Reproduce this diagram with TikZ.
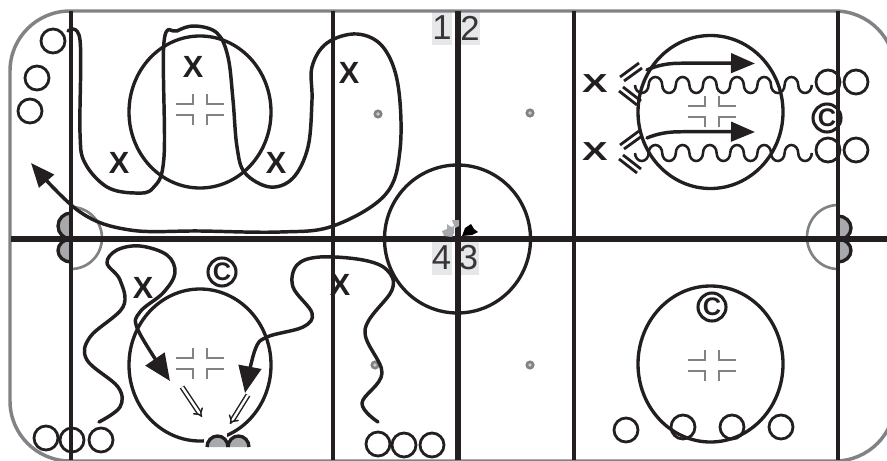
\documentclass[tikz,border=0pt]{standalone}
\usepackage{fontspec}
\setmainfont{Liberation Sans}
\usepackage{xcolor}
\usetikzlibrary{arrows.meta,calc}
\definecolor{RinkGray}{HTML}{808285}
\definecolor{LineBlack}{HTML}{231F20}
\definecolor{CreaseGray}{HTML}{A7A9AC}
\definecolor{NumberGray}{HTML}{E6E7E8}
\tikzset{
  rinkline/.style={draw=LineBlack,line width=2.3pt},
  redline/.style={draw=LineBlack,line width=4.5pt},
  border/.style={draw=RinkGray,line width=2.6pt},
  zone/.style={draw=LineBlack,line width=2.5pt},
  crease/.style={draw=RinkGray,line width=2pt},
  skate/.style={draw=LineBlack,line width=2.6pt,line cap=round,line join=round},
  wavepath/.style={draw=LineBlack,line width=1.9pt},
  shotpass/.style={draw=LineBlack,line width=1.1pt,double=white,double distance=1.8pt,-{Implies}},
  bigtip/.style={-{Triangle[length=18pt,width=14.5pt]}},
  hugetip/.style={-{Triangle[length=20pt,width=17pt]}},
  player/.style={circle,draw=LineBlack,line width=2.1pt,fill=none,minimum size=18pt,inner sep=0pt},
  xplayer/.style={font=\bfseries\fontsize{23}{23}\selectfont,text=LineBlack,inner sep=0pt},
  coach/.style={circle,draw=LineBlack,line width=2.3pt,font=\bfseries\fontsize{19}{19}\selectfont,text=LineBlack,inner sep=0pt,minimum size=21pt},
  endnum/.style={fill=NumberGray,font=\fontsize{26}{26}\selectfont,text=LineBlack!90,inner sep=0pt,minimum width=15pt,minimum height=25pt},
  faceoff/.pic={
    \draw[draw=RinkGray,line width=1pt] (-24,-6) -- (-7,-6) -- (-7,-16);
    \draw[draw=RinkGray,line width=1pt] (-24,5) -- (-7,5) -- (-7,15);
    \draw[draw=RinkGray,line width=1pt] (7,-16) -- (7,-6) -- (24,-6);
    \draw[draw=RinkGray,line width=1pt] (7,15) -- (7,5) -- (24,5);
  },
  spotdot/.pic={
    \fill[RinkGray] (0,0) circle[radius=4.6];
    \fill[CreaseGray!60] (0,0) circle[radius=1.8];
  },
  stopmark/.pic={
    \draw[draw=LineBlack,line width=2.1pt] (0,-7) -- (19,-21);
    \draw[draw=LineBlack,line width=2.1pt] (4,-3) -- (22,-16);
    \draw[draw=LineBlack,line width=2.1pt] (-1,7) -- (17,21);
    \draw[draw=LineBlack,line width=2.1pt] (3,3) -- (21,17);
  }
}
\begin{document}
\begin{tikzpicture}[x=0.75pt,y=-0.75pt,>=Latex]
  \useasboundingbox (0,0) rectangle (887,460);
  \clip (0,0) rectangle (887,460);

  % End zone numbers sit under the lines.
  \node[endnum] (numone) at (442,28) {1};
  \node[endnum] (numtwo) at (470,28) {2};
  \node[endnum] (numfour) at (441.5,258) {4};
  \node[endnum] (numthree) at (468.5,258) {3};

  % Rink outline and creases.
  \draw[border,rounded corners=45pt] (10,11) rectangle (895,461);
  \draw[crease] (71,207) arc[start angle=-90,end angle=90,x radius=31,y radius=31];
  \draw[crease] (838,205) arc[start angle=-90,end angle=-270,x radius=31,y radius=32];
  \filldraw[zone,fill=CreaseGray] (71,213) arc[start angle=-90,end angle=-270,x radius=13,y radius=13] -- cycle;
  \filldraw[zone,fill=CreaseGray] (71,239) arc[start angle=-90,end angle=-270,x radius=13,y radius=11.5] -- cycle;
  \filldraw[zone,fill=CreaseGray] (838,216) arc[start angle=-90,end angle=90,x radius=13,y radius=12] -- cycle;
  \filldraw[zone,fill=CreaseGray] (838,239) arc[start angle=-90,end angle=90,x radius=13,y radius=11.5] -- cycle;

  % Lines.
  \foreach \xline in {71,333,574,838}
    \draw[rinkline] (\xline,11) -- (\xline,460);
  \draw[redline] (457.5,11) -- (457.5,460);
  \draw[redline] (11,239) -- (887,239);

  % Centre logo.
  \fill[CreaseGray] (442,231) -- (447,229) -- (447,224) -- (451,227) -- (454,226) -- (454,233) -- (452,237) -- (444,236) -- cycle;
  \fill[CreaseGray] (452,220) -- (459,220) -- (459,226) -- (455,228) -- cycle;
  \fill[black] (462,236) -- (465,228) -- (471,224) -- (474,229) -- (478,232) -- (472,235) -- cycle;

  % Circles.
  \draw[zone] (200,112) ellipse[x radius=71,y radius=76];
  \draw[zone] (200,365) ellipse[x radius=71,y radius=76];
  \draw[zone] (710.5,112) ellipse[x radius=72.5,y radius=76.5];
  \draw[zone] (710.5,364) ellipse[x radius=72.5,y radius=78];
  \draw[zone] (457.5,239) ellipse[x radius=73,y radius=74];

  % Gap at the lower goal.
  \fill[white] (204,430) rectangle (227,447);
  \filldraw[zone,fill=CreaseGray] (207,447) arc[start angle=180,end angle=360,x radius=10.5,y radius=11];
  \filldraw[zone,fill=CreaseGray] (228,447) arc[start angle=180,end angle=360,x radius=10.5,y radius=11];

  \pic at (200,110) {faceoff};
  \pic at (200,364) {faceoff};
  \pic at (712,112) {faceoff};
  \pic at (712,366) {faceoff};

  \pic at (378,114) {spotdot};
  \pic at (530,113) {spotdot};
  \pic at (375,365) {spotdot};
  \pic at (530,365) {spotdot};

  % Upper left drill.
  \draw[skate,bigtip] plot[smooth,tension=0.6] coordinates {(68,31) (80,40) (80,133) (85,163)
    (107,187) (135,193) (153,188) (164,157) (164,42) (177,31) (195,26) (217,33)
    (228,57) (233,100) (237,147) (245,173) (270,187) (293,178) (308,147) (312,100)
    (312,67) (327,43) (357,34) (383,47) (398,85) (400,150) (385,195) (333,226)
    (280,232) (200,231) (130,230) (80,212) (31,163)};
  \node[player] (pa) at (53,41) {};
  \node[player] (pb) at (37,78) {};
  \node[player] (pc) at (30,111) {};
  \node[xplayer] (xa) at (193,67) {X};
  \node[xplayer] (xb) at (119,163) {X};
  \node[xplayer] (xc) at (276,163) {X};
  \node[xplayer] (xd) at (349,73) {X};

  % Lower left drill.
  \draw[skate,hugetip] plot[smooth,tension=0.6] coordinates {(99,422) (120,407) (118,387) (87,360)
    (90,337) (123,307) (120,280) (107,263) (117,250) (140,246) (167,255) (175,273)
    (163,293) (140,312) (138,330) (170,381)};
  \draw[skate,hugetip] plot[smooth,tension=0.6] coordinates {(378,422) (362,403) (382,373) (365,330)
    (392,290) (387,270) (363,260) (320,257) (297,265) (293,287) (312,313) (303,327)
    (267,337) (255,350) (245,393)};
  \draw[shotpass] (182,387) -- (202,417);
  \draw[shotpass] (248,395) -- (230,424);
  \node[player] (pd) at (46,438) {};
  \node[player] (pe) at (72,440) {};
  \node[player] (pf) at (101,440) {};
  \node[player] (pg) at (378,444) {};
  \node[player] (ph) at (404,445) {};
  \node[player] (pi) at (432,445) {};
  \node[xplayer] (xe) at (143,288) {X};
  \node[xplayer] (xf) at (340,285) {X};
  \node[coach] (ca) at (222,272) {C};

  % Upper right drill.
  \foreach \yline in {85,153} {
    \draw[wavepath] (635,\yline) foreach \i in {1,...,6} {
      arc[start angle=180,end angle=0,x radius=6.8,y radius=8] arc[start angle=180,end angle=360,x radius=6.8,y radius=8]}
      arc[start angle=180,end angle=0,x radius=6.8,y radius=8];
    \pic at (620,\yline-1) {stopmark};
    \node[xplayer,xscale=1.25,yscale=0.85] at (595,\yline-1) {X};
  }
  \draw[skate,bigtip] plot[smooth] coordinates {(647,70) (673,63.5) (755,63.5)};
  \draw[skate,bigtip] plot[smooth] coordinates {(647,138) (673,132) (755,132)};
  \node[player] (pj) at (828,82) {};
  \node[player] (pk) at (856,82) {};
  \node[player] (pl) at (828,150) {};
  \node[player] (pm) at (856,150) {};
  \node[coach] (cb) at (827,118) {C};

  % Lower right drill.
  \node[coach] (cc) at (712,307) {C};
  \node[player] (pn) at (626,430) {};
  \node[player] (po) at (683,427) {};
  \node[player] (pp) at (732,427) {};
  \node[player] (pq) at (781,427) {};
\end{tikzpicture}
\end{document}
